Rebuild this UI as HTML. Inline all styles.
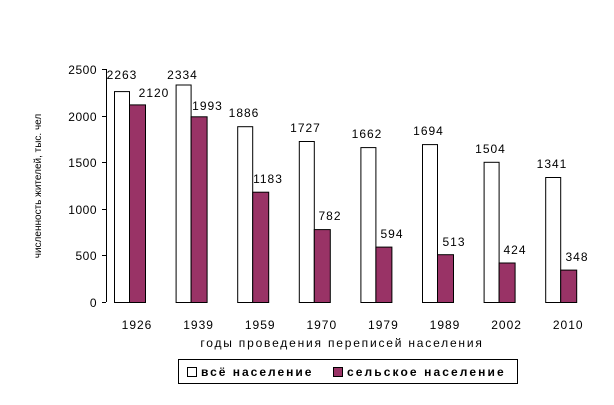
<!DOCTYPE html>
<html><head><meta charset="utf-8"><style>body{margin:0;background:#fff}svg{display:block}text{font-family:"Liberation Sans",Arial,sans-serif;fill:#000}</style></head>
<body>
<svg width="614" height="405" viewBox="0 0 614 405" xmlns="http://www.w3.org/2000/svg">
<line x1="106.5" y1="69" x2="106.5" y2="302" stroke="#000"/>
<g stroke="#000">
<line x1="102" y1="69.5" x2="106" y2="69.5"/><line x1="102" y1="116.5" x2="106" y2="116.5"/><line x1="102" y1="162.5" x2="106" y2="162.5"/><line x1="102" y1="209.5" x2="106" y2="209.5"/><line x1="102" y1="255.5" x2="106" y2="255.5"/><line x1="102" y1="302.5" x2="106" y2="302.5"/>
</g>
<g font-size="12" text-anchor="end" letter-spacing="0.5">
<text x="97" y="74">2500</text><text x="97" y="121">2000</text><text x="97" y="167">1500</text><text x="97" y="214">1000</text><text x="97" y="260">500</text><text x="97" y="307">0</text>
</g>
<text transform="translate(41,186) rotate(-90)" font-size="10" text-anchor="middle">численность жителей, тыс. чел</text>
<g stroke="#000" stroke-width="1">
<rect x="114.5" y="91.6" width="15" height="210.9" fill="#fff"/><rect x="129.5" y="104.9" width="16" height="197.6" fill="#993366"/>
<rect x="176.1" y="85.0" width="15" height="217.5" fill="#fff"/><rect x="191.1" y="116.8" width="16" height="185.7" fill="#993366"/>
<rect x="237.7" y="126.7" width="15" height="175.8" fill="#fff"/><rect x="252.7" y="192.2" width="16" height="110.3" fill="#993366"/>
<rect x="299.3" y="141.5" width="15" height="161.0" fill="#fff"/><rect x="314.3" y="229.6" width="16" height="72.9" fill="#993366"/>
<rect x="360.9" y="147.6" width="15" height="154.9" fill="#fff"/><rect x="375.9" y="247.1" width="16" height="55.4" fill="#993366"/>
<rect x="422.5" y="144.6" width="15" height="157.9" fill="#fff"/><rect x="437.5" y="254.7" width="16" height="47.8" fill="#993366"/>
<rect x="484.1" y="162.3" width="15" height="140.2" fill="#fff"/><rect x="499.1" y="263.0" width="16" height="39.5" fill="#993366"/>
<rect x="545.7" y="177.5" width="15" height="125.0" fill="#fff"/><rect x="560.7" y="270.1" width="16" height="32.4" fill="#993366"/>
</g>
<g font-size="12" text-anchor="middle" letter-spacing="1">
<text x="122" y="79">2263</text><text x="154" y="97">2120</text>
<text x="182.5" y="79">2334</text><text x="207.5" y="110">1993</text>
<text x="244" y="117">1886</text><text x="268" y="183">1183</text>
<text x="305.5" y="132">1727</text><text x="330" y="220">782</text>
<text x="367" y="138">1662</text><text x="392" y="238">594</text>
<text x="428.5" y="135">1694</text><text x="454" y="246">513</text>
<text x="490.5" y="153">1504</text><text x="515" y="254">424</text>
<text x="552" y="168">1341</text><text x="577" y="261">348</text>
</g>
<g font-size="12" text-anchor="middle" letter-spacing="1">
<text x="137" y="329">1926</text><text x="198.6" y="329">1939</text><text x="260.2" y="329">1959</text><text x="321.8" y="329">1970</text><text x="383.4" y="329">1979</text><text x="445" y="329">1989</text><text x="506.6" y="329">2002</text><text x="568.2" y="329">2010</text>
</g>
<text x="342" y="347" font-size="12" text-anchor="middle" letter-spacing="1.8">годы проведения переписей населения</text>
<rect x="178.5" y="359.5" width="339" height="24" fill="#fff" stroke="#000"/>
<rect x="187.5" y="367.5" width="9" height="9" fill="#fff" stroke="#000"/>
<text x="201" y="376" font-size="12" font-weight="bold" letter-spacing="2">всё население</text>
<rect x="333.5" y="367.5" width="9" height="9" fill="#993366" stroke="#000"/>
<text x="347" y="376" font-size="12" font-weight="bold" letter-spacing="2.1">сельское население</text>
</svg>
</body></html>
